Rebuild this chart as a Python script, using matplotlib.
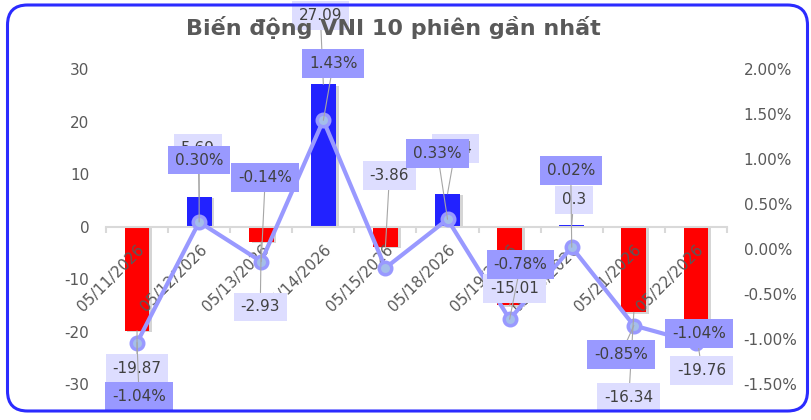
import numpy as np
import matplotlib
matplotlib.use("Agg")
import matplotlib.pyplot as plt
from matplotlib.patches import FancyBboxPatch
from matplotlib.ticker import FuncFormatter
import matplotlib.patheffects as pe

plt.rcParams["axes.unicode_minus"] = False

# data
dates = ["05/11/2026", "05/12/2026", "05/13/2026", "05/14/2026", "05/15/2026",
         "05/18/2026", "05/19/2026", "05/20/2026", "05/21/2026", "05/22/2026"]
change_pts = [-19.87, 5.69, -2.93, 27.09, -3.86, 6.24, -15.01, 0.3, -16.34, -19.76]
change_pct = [-1.04, 0.30, -0.14, 1.43, -0.21, 0.33, -0.78, 0.02, -0.85, -1.04]
show_pct_label = [True, True, True, True, False, True, True, True, True, True]

# label offsets in pixels (dx, dy) from the bar end / line point
bar_lbl_off = [(0, -38), (-1, 48), (-1, -65), (-3, 69), (4, 71),
               (8, 45), (5, 17), (2, 25), (-5, -85), (6, -40)]
pct_lbl_off = [(2, -54), (0, 62), (4, 84), (10, 57), (0, 0),
               (-10, 66), (11, 55), (-1, 77), (-13, -29), (3, 9)]

txt_col = "#404040"
axis_col = "#595959"

fig = plt.figure(figsize=(8.11, 4.2), dpi=100)
fig.patch.set_facecolor("white")

# rounded blue frame
frame = FancyBboxPatch((0.075, 0.09), 8.0, 4.06,
                       boxstyle="round,pad=0,rounding_size=0.2",
                       transform=fig.dpi_scale_trans, fc="none",
                       ec="#2B2BFF", lw=2.2, zorder=20)
fig.patches.append(frame)

ax = fig.add_axes([0.1307, 0.0857, 0.7657, 0.75])
ax.patch.set_alpha(0)
ax.set_axisbelow(False)
x = np.arange(len(dates))
cols = ["#2222FF" if v >= 0 else "#FF0000" for v in change_pts]
bars = ax.bar(x, change_pts, width=0.4, color=cols, zorder=2)
for b in bars:
    b.set_path_effects([pe.SimplePatchShadow(offset=(2, -1), shadow_rgbFace="#888888", alpha=0.35),
                        pe.Normal()])

ax.set_xlim(-0.5, len(dates) - 0.5)
ax.set_ylim(-30, 30)
ax.set_yticks(np.arange(-30, 31, 10))
for s in ["top", "right", "left"]:
    ax.spines[s].set_visible(False)
ax.spines["bottom"].set_position(("data", 0))
ax.spines["bottom"].set_color("#D9D9D9")
ax.spines["bottom"].set_linewidth(1.5)
ax.set_xticks(x)
ax.set_xticklabels(dates, rotation=45, ha="right", va="top", rotation_mode="anchor",
                   fontsize=11, color=axis_col)
ax.set_xticks(np.arange(-0.5, len(dates), 1), minor=True)
ax.tick_params(axis="x", which="major", length=0, pad=11)
ax.tick_params(axis="x", which="minor", length=4, width=1.5, color="#D9D9D9", direction="out")
ax.tick_params(axis="y", length=0, pad=12, labelsize=11, labelcolor=axis_col)

ax2 = ax.twinx()
ax2.set_ylim(-1.5, 2.0)
ax2.set_yticks(np.arange(-1.5, 2.01, 0.5))
ax2.yaxis.set_major_formatter(FuncFormatter(lambda v, p: f"{v:.2f}%"))
for s in ax2.spines.values():
    s.set_visible(False)
ax2.tick_params(axis="y", length=0, pad=12, labelsize=11, labelcolor=axis_col)

ax2.plot(x, change_pct, color="#9999FF", lw=3, marker="o", ms=9,
         mfc="#A4BEEA", mec="#9999FF", mew=2.5, zorder=3)

# bar value labels
for i, v in enumerate(change_pts):
    ax2.annotate(f"{v:g}", xy=(x[i], v), xycoords=ax.transData,
                 xytext=bar_lbl_off[i], textcoords="offset pixels",
                 ha="center", va="center", fontsize=11, color=txt_col,
                 bbox=dict(boxstyle="square,pad=0.45", fc="#DDDDFF", ec="none"),
                 arrowprops=dict(arrowstyle="-", color="#A6A6A6", lw=0.8,
                                 shrinkA=0, shrinkB=0),
                 zorder=4)

# percent labels
for i, p in enumerate(change_pct):
    if not show_pct_label[i]:
        continue
    ax2.annotate(f"{p:.2f}%", xy=(x[i], p),
                 xytext=pct_lbl_off[i], textcoords="offset pixels",
                 ha="center", va="center", fontsize=11, color=txt_col,
                 bbox=dict(boxstyle="square,pad=0.45", fc="#9999FF", ec="none"),
                 arrowprops=dict(arrowstyle="-", color="#A6A6A6", lw=0.8,
                                 shrinkA=0, shrinkB=0),
                 zorder=5)

fig.text(0.485, 0.935, "Biến động VNI 10 phiên gần nhất", ha="center", va="center",
         fontsize=16, fontweight="bold", color=axis_col, zorder=10)

fig.savefig("out.png", dpi=100)
